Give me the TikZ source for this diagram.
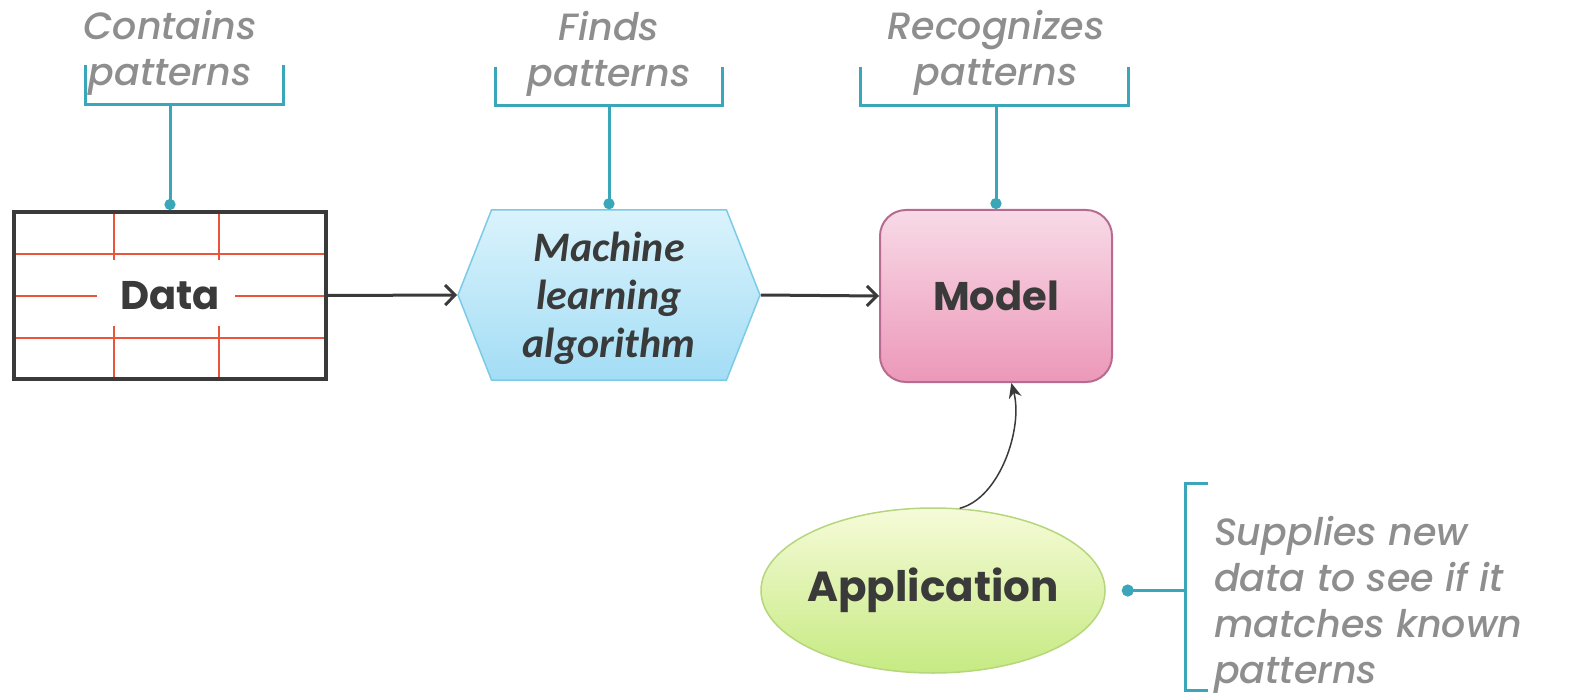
\documentclass[tikz,border=0pt]{standalone}
\usepackage{fontspec}
\usetikzlibrary{arrows.meta,shapes.geometric,shapes.symbols}
\newfontfamily\gothic{Poppins}
\newfontfamily\notefont{Poppins Medium Italic}
\newfontfamily\hexfont{Carlito}
\definecolor{tealc}{HTML}{3AA6B9}
\definecolor{notegray}{HTML}{8E8E8E}
\definecolor{boxdark}{HTML}{3A3A3A}
\definecolor{gridred}{HTML}{E8553A}
\definecolor{hexline}{HTML}{7CCBE6}
\definecolor{hextop}{HTML}{DAF3FC}
\definecolor{hexbot}{HTML}{A3DDF5}
\definecolor{modline}{HTML}{B76B8E}
\definecolor{modtop}{HTML}{F8DAE7}
\definecolor{modbot}{HTML}{EC98B8}
\definecolor{appline}{HTML}{B6D67B}
\definecolor{apptop}{HTML}{F6FBD8}
\definecolor{appbot}{HTML}{C6EA82}
\begin{document}
\begin{tikzpicture}[x=1pt,y=-1pt,
    note/.style={text=notegray,align=center,inner sep=0pt,
      font=\notefont\fontsize{38}{46}\selectfont},
    tealline/.style={tealc,line width=3pt},
    flow/.style={boxdark,line width=3pt,-{Straight Barb[length=10pt,width=20pt]}},
    boxtext/.style={text=boxdark,font=\gothic\bfseries\fontsize{40}{48}\selectfont}]
	\useasboundingbox (0,0) rectangle (1576,695);
	% table lines behind the data box
	\draw[gridred,line width=1.5pt]
	  (14,254) -- (326,254) (14,338) -- (326,338)
	  (14,296) -- (97,296) (235,296) -- (326,296)
	  (114,212) -- (114,260) (219,212) -- (219,260)
	  (114,326) -- (114,379) (219,326) -- (219,379);
	\node[boxtext,draw=boxdark,line width=4pt,minimum width=312pt,
	  minimum height=167pt] (data) at (170,295.5) {Data};
	\node[signal,signal to=west and east,signal pointer angle=137,
	  draw=hexline,line width=1.5pt,top color=hextop,
	  bottom color=hexbot,minimum width=302pt,minimum height=170pt,
	  text=boxdark,align=center,text depth=0pt,
	  font=\hexfont\bfseries\itshape\fontsize{42}{48}\selectfont] (alg) at (609,295)
	  {Machine\\learning\\algorithm};
	\node[boxtext,draw=modline,line width=2pt,rounded corners=26pt,
	  top color=modtop,bottom color=modbot,
	  minimum width=232pt,minimum height=172pt] (model) at (996,296) {Model};
	\node[boxtext,ellipse,inner sep=0pt,draw=appline,line width=1.5pt,
	  top color=apptop,bottom color=appbot,font=\gothic\bfseries\fontsize{42}{48}\selectfont,
	  minimum width=344pt,minimum height=165pt] (app) at (933,590.5)
	  {\makebox[200pt]{Application}};
	% flow
	\draw[flow] (data.east) -- (alg.west);
	\draw[flow] (alg.east) -- (model.west);
	\draw[boxdark,line width=1.5pt,-{Stealth[length=15pt,width=13pt]}]
	  (app.72) .. controls +(40,-10) and +(12,45) .. (model.-80);
	% notes with brackets
	\node[note] (lblData) at (170,53) {Contains\\patterns};
	\node[note] (lblAlg) at (609,54) {Finds\\patterns};
	\node[note] (lblModel) at (996,53) {Recognizes\\patterns};
	\draw[tealline] (85,65) |- (283,105) -- (283,65);
	\draw[tealline] (495,67) |- (722,106) -- (722,67);
	\draw[tealline] (860,67) |- (1128,106) -- (1128,67);
	\coordinate (brkData) at (170,105);
	\coordinate (brkAlg) at (609,106);
	\coordinate (brkModel) at (996,106);
	\draw[tealline,-{Circle[length=11pt]}] (brkData) -- (data.north);
	\draw[tealline,-{Circle[length=11pt]}] (brkAlg) -- (alg.north);
	\draw[tealline,-{Circle[length=11pt]}] (brkModel) -- (model.north);
	\node[note,align=left,anchor=west] (lblApp) at (1214,605)
	  {Supplies new\\data to see if it\\matches known\\patterns};
	\draw[tealline] (1208,483) -| (1185,690) -- (1208,690);
	\coordinate (brkApp) at (1185,590.5);
	\draw[tealline,-{Circle[length=12pt]},shorten >=16pt] (brkApp) -- (app.east);
\end{tikzpicture}
\end{document}
